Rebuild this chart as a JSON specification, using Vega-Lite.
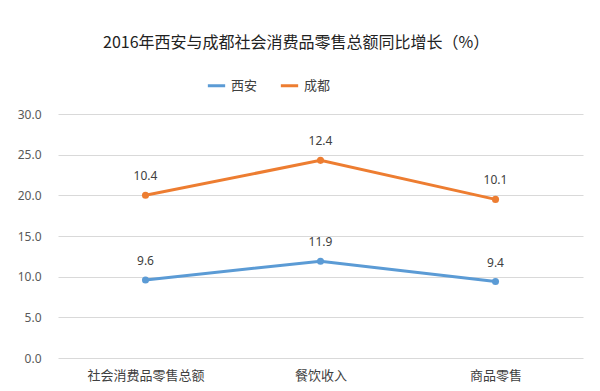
{
  "$schema": "https://vega.github.io/schema/vega-lite/v6.json",
  "width": 525,
  "height": 244,
  "autosize": "none",
  "padding": {"left": 58, "top": 114, "right": 17, "bottom": 33},
  "background": "white",
  "title": {
    "text": "2016年西安与成都社会消费品零售总额同比增长（%）",
    "font": "Noto Sans CJK SC",
    "fontSize": 16,
    "fontWeight": "normal",
    "color": "#222222",
    "anchor": "start",
    "frame": "group",
    "dx": 45,
    "offset": 24
  },
  "config": {
    "view": {"stroke": null},
    "font": "Noto Sans CJK SC"
  },
  "data": {
    "values": [
      {"cat": "社会消费品零售总额", "city": "西安", "value": 9.6},
      {"cat": "餐饮收入", "city": "西安", "value": 11.9},
      {"cat": "商品零售", "city": "西安", "value": 9.4},
      {"cat": "社会消费品零售总额", "city": "成都", "value": 10.4},
      {"cat": "餐饮收入", "city": "成都", "value": 12.4},
      {"cat": "商品零售", "city": "成都", "value": 10.1}
    ]
  },
  "transform": [
    {"stack": "value", "groupby": ["cat"], "sort": [{"field": "city", "order": "descending"}], "as": ["y0", "y1"]}
  ],
  "encoding": {
    "x": {
      "field": "cat", "type": "nominal", "sort": null,
      "scale": {"type": "point", "padding": 0.5},
      "axis": {"title": null, "labelAngle": 0, "domain": false, "ticks": false, "labelFontSize": 13, "labelColor": "#404040", "labelPadding": 11, "labelFont": "Noto Sans CJK SC"}
    },
    "y": {
      "field": "y1", "type": "quantitative",
      "scale": {"domain": [0, 30]},
      "axis": {"title": null, "values": [0, 5, 10, 15, 20, 25, 30], "format": ".1f", "domain": false, "ticks": false, "gridColor": "#d9d9d9", "gridWidth": 1, "labelFontSize": 12, "labelColor": "#595959", "labelPadding": 17, "labelFont": "Noto Sans"}
    },
    "color": {
      "field": "city", "type": "nominal",
      "scale": {"domain": ["西安", "成都"], "range": ["#5B9BD5", "#ED7D31"]},
      "legend": {"title": null, "orient": "none", "direction": "horizontal", "legendX": 148, "legendY": -39, "labelFontSize": 13, "labelColor": "#404040", "symbolType": "stroke", "symbolStrokeWidth": 3, "symbolSize": 300, "columnPadding": 16, "labelFont": "Noto Sans CJK SC"}
    }
  },
  "layer": [
    {"mark": {"type": "line", "strokeWidth": 3}},
    {"mark": {"type": "circle", "size": 50, "opacity": 1}},
    {
      "mark": {"type": "text", "dy": -19, "fontSize": 12, "color": "#404040", "font": "Noto Sans"},
      "encoding": {"text": {"field": "value", "type": "quantitative", "format": ".1f"}, "color": {"value": "#404040"}}
    }
  ]
}
